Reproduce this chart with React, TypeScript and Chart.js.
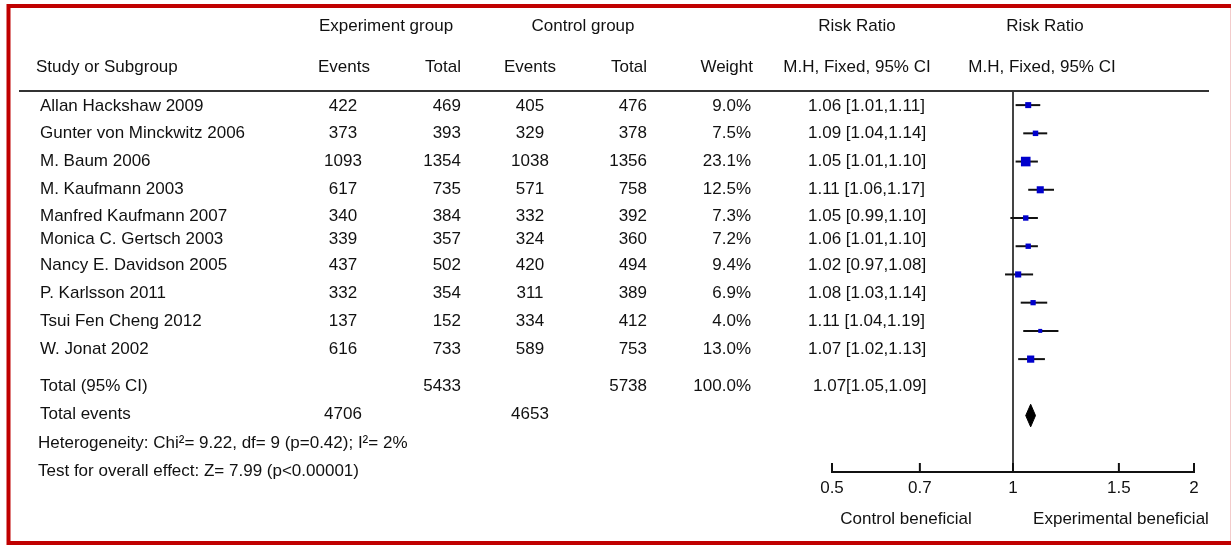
import { useEffect, useRef } from 'react';
import { Chart, registerables } from 'chart.js';
Chart.register(...registerables);

const studies = [
  'Allan Hackshaw 2009',
  'Gunter von Minckwitz 2006',
  'M. Baum 2006',
  'M. Kaufmann 2003',
  'Manfred Kaufmann 2007',
  'Monica C. Gertsch 2003',
  'Nancy E. Davidson 2005',
  'P. Karlsson 2011',
  'Tsui Fen Cheng 2012',
  'W. Jonat 2002',
];
const expEvents = [422, 373, 1093, 617, 340, 339, 437, 332, 137, 616];
const expTotal = [469, 393, 1354, 735, 384, 357, 502, 354, 152, 733];
const ctlEvents = [405, 329, 1038, 571, 332, 324, 420, 311, 334, 589];
const ctlTotal = [476, 378, 1356, 758, 392, 360, 494, 389, 412, 753];
const weights = [9.0, 7.5, 23.1, 12.5, 7.3, 7.2, 9.4, 6.9, 4.0, 13.0];
const rrMean = [1.06, 1.09, 1.05, 1.11, 1.05, 1.06, 1.02, 1.08, 1.11, 1.07];
const rrLow = [1.01, 1.04, 1.01, 1.06, 0.99, 1.01, 0.97, 1.03, 1.04, 1.02];
const rrHigh = [1.11, 1.14, 1.10, 1.17, 1.10, 1.10, 1.08, 1.14, 1.19, 1.13];
const pooledMean = 1.07;
const pooledLow = 1.05;
const pooledHigh = 1.09;
const totalExp = 5433;
const totalCtl = 5738;
const totalWeight = 100.0;
const totalExpEvents = 4706;
const totalCtlEvents = 4653;
const xTicks = [0.5, 0.7, 1, 1.5, 2];
const heterogeneityText = 'Heterogeneity: Chi²= 9.22, df= 9 (p=0.42); I²= 2%';
const overallText = 'Test for overall effect: Z= 7.99 (p<0.00001)';

const W = 1231;
const H = 545;
const FONT = '17px "Liberation Sans", Arial, sans-serif';
const TXT = '#111';

const rowTextY = [106, 133, 161, 189, 216, 239, 265, 293, 321, 349];

const fmtW = (w: number) => w.toFixed(1) + '%';
const fmtRR = (m: number, l: number, h: number) =>
  `${m.toFixed(2)} [${l.toFixed(2)},${h.toFixed(2)}]`;

const tablePlugin = {
  id: 'forestTable',
  afterDraw(chart: any) {
    const ctx = chart.ctx as CanvasRenderingContext2D;
    const xs = chart.scales.x;
    const area = chart.chartArea;
    ctx.save();
    // frame
    ctx.strokeStyle = '#C00000';
    ctx.lineWidth = 4;
    ctx.strokeRect(8.5, 6, 1232.8 - 8.5, 543 - 6);
    // header rule
    ctx.strokeStyle = '#333';
    ctx.lineWidth = 2;
    ctx.beginPath();
    ctx.moveTo(19, 91);
    ctx.lineTo(1209, 91);
    ctx.stroke();
    // tick marks (upward)
    ctx.strokeStyle = '#111';
    ctx.lineWidth = 2;
    xTicks.forEach((v) => {
      const px = xs.getPixelForValue(v);
      ctx.beginPath();
      ctx.moveTo(px, area.bottom - 9);
      ctx.lineTo(px, area.bottom);
      ctx.stroke();
    });

    ctx.font = FONT;
    ctx.fillStyle = TXT;
    ctx.textBaseline = 'middle';
    const put = (t: string, x: number, y: number, align: CanvasTextAlign) => {
      ctx.textAlign = align;
      ctx.fillText(t, x, y);
    };
    // headers
    put('Experiment group', 386, 26, 'center');
    put('Control group', 583, 26, 'center');
    put('Risk Ratio', 857, 26, 'center');
    put('Risk Ratio', 1045, 26, 'center');
    put('Study or Subgroup', 36, 67, 'left');
    put('Events', 344, 67, 'center');
    put('Total', 461, 67, 'right');
    put('Events', 530, 67, 'center');
    put('Total', 647, 67, 'right');
    put('Weight', 753, 67, 'right');
    put('M.H, Fixed, 95% CI', 857, 67, 'center');
    put('M.H, Fixed, 95% CI', 1042, 67, 'center');

    studies.forEach((s, i) => {
      const y = rowTextY[i];
      put(s, 40, y, 'left');
      put(String(expEvents[i]), 343, y, 'center');
      put(String(expTotal[i]), 461, y, 'right');
      put(String(ctlEvents[i]), 530, y, 'center');
      put(String(ctlTotal[i]), 647, y, 'right');
      put(fmtW(weights[i]), 751, y, 'right');
      put(fmtRR(rrMean[i], rrLow[i], rrHigh[i]), 808, y, 'left');
    });

    put('Total (95% CI)', 40, 386, 'left');
    put(String(totalExp), 461, 386, 'right');
    put(String(totalCtl), 647, 386, 'right');
    put(fmtW(totalWeight), 751, 386, 'right');
    put(`${pooledMean.toFixed(2)}[${pooledLow.toFixed(2)},${pooledHigh.toFixed(2)}]`, 813, 386, 'left');
    put('Total events', 40, 414, 'left');
    put(String(totalExpEvents), 343, 414, 'center');
    put(String(totalCtlEvents), 530, 414, 'center');
    put(heterogeneityText, 38, 443, 'left');
    put(overallText, 38, 471, 'left');

    put('Control beneficial', 906, 519, 'center');
    put('Experimental beneficial', 1121, 519, 'center');
    ctx.restore();
  },
};

export default function App() {
  const ref = useRef<HTMLCanvasElement | null>(null);
  useEffect(() => {
    if (!ref.current) return;
    const ciSets = studies.map((_, i) => ({
      data: [
        { x: rrLow[i], y: i },
        { x: rrHigh[i], y: i },
      ],
      showLine: true,
      borderColor: '#111',
      borderWidth: 2,
      pointRadius: 0,
      order: 1,
    }));
    const chart = new Chart(ref.current, {
      type: 'scatter',
      data: {
        datasets: [
          {
            data: studies.map((_, i) => ({ x: rrMean[i], y: i })),
            pointStyle: 'rect',
            pointRadius: studies.map((_, i) => 1.414 * Math.sqrt(weights[i])),
            backgroundColor: '#0000CC',
            borderColor: '#0000CC',
            borderWidth: 0,
            order: 0,
          },
          ...ciSets,
          {
            data: [
              { x: pooledLow, y: 11 },
              { x: pooledMean, y: 10.6 },
              { x: pooledHigh, y: 11 },
              { x: pooledMean, y: 11.4 },
              { x: pooledLow, y: 11 },
            ],
            showLine: true,
            fill: 'shape',
            borderColor: '#000',
            backgroundColor: '#000',
            borderWidth: 1,
            pointRadius: 0,
            order: 1,
          } as any,
          {
            data: [
              { x: 1, y: -0.5 },
              { x: 1, y: 13 },
            ],
            showLine: true,
            borderColor: '#444',
            borderWidth: 2,
            pointRadius: 0,
            order: 2,
          },
        ],
      },
      options: {
        animation: false,
        responsive: false,
        events: [],
        layout: { padding: { left: 832, right: W - 1194, top: 91, bottom: H - 472 - 40 } },
        plugins: { legend: { display: false }, tooltip: { enabled: false } },
        scales: {
          x: {
            type: 'logarithmic',
            min: 0.5,
            max: 2,
            afterBuildTicks: (s: any) => {
              s.ticks = xTicks.map((v) => ({ value: v }));
            },
            afterFit: (s: any) => {
              s.height = 40;
            },
            grid: { display: false, drawTicks: false },
            border: { display: true, color: '#111', width: 2 },
            ticks: {
              autoSkip: false,
              maxRotation: 0,
              padding: 6,
              color: TXT,
              font: { family: '"Liberation Sans", Arial, sans-serif', size: 17 },
              callback: (v: any) => String(v),
            },
          },
          y: {
            type: 'linear',
            display: false,
            reverse: true,
            min: -0.5,
            max: 13,
          },
        },
      },
      plugins: [tablePlugin],
    });
    return () => chart.destroy();
  }, []);
  return (
    <div style={{ position: 'absolute', left: 0, top: 0, width: W, height: H, background: '#fff' }}>
      <canvas ref={ref} width={W} height={H} style={{ display: 'block' }} />
    </div>
  );
}
